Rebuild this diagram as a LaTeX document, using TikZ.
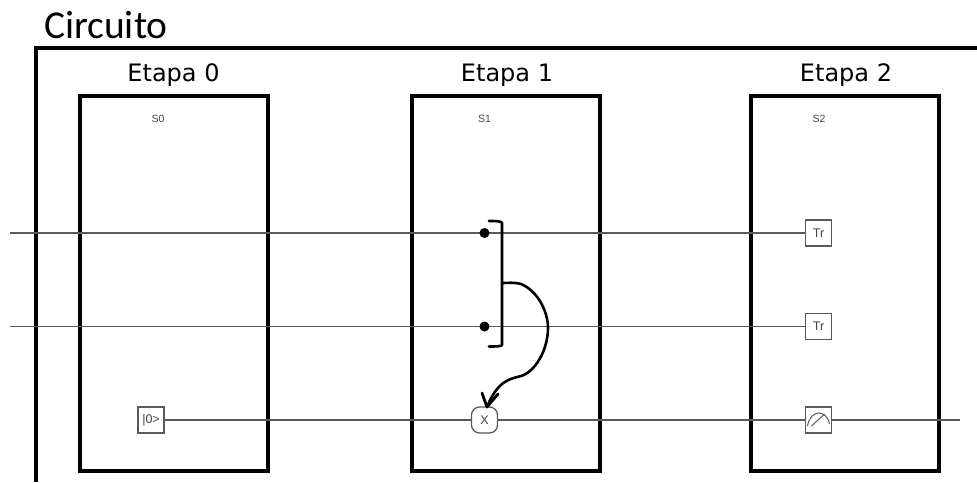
\documentclass[tikz,border=0pt]{standalone}
\usepackage{fontspec}
\setmainfont{Carlito}
\newfontfamily\etapafont{DejaVu Sans}
\newfontfamily\smallfont{Liberation Sans}
\usetikzlibrary{arrows.meta}
\definecolor{wirecol}{HTML}{5A5A5A}
\definecolor{smallcol}{HTML}{444444}
\tikzset{
  x=1pt,y=-1pt,
  frameline/.style={draw=black,line width=4pt,miter limit=10},
  stagebox/.style={draw=black,line width=4pt,minimum width=188pt,minimum height=375pt,inner sep=0pt,outer sep=0pt},
  wire/.style={draw=wirecol,line width=1.4pt},
  gatebox/.style={draw=wirecol,line width=1.3pt,fill=white,minimum width=26pt,minimum height=26pt,inner sep=0pt,font=\smallfont\fontsize{12.5}{12.5}\selectfont,text=smallcol},
  xgate/.style={gatebox,rounded corners=8pt},
  stagelabel/.style={font=\etapafont\fontsize{24}{24}\selectfont,text=black,inner sep=0pt},
  steplabel/.style={font=\smallfont\fontsize{10.5}{11}\selectfont,text=smallcol,inner sep=0pt},
  ctrl/.style={circle,fill=black,minimum size=10pt,inner sep=0pt},
  ink/.style={draw=black,line width=2.6pt,line cap=round,line join=round},
}
\begin{document}
\begin{tikzpicture}
\useasboundingbox (0,0) rectangle (977,482);
\fill[white] (0,0) rectangle (977,482);
% stage boxes
\node[stagebox] (b0) at (174,283.5) {};
\node[stagebox] (b1) at (506,283.5) {};
\node[stagebox] (b2) at (845,283.5) {};
% outer frame
\coordinate (fa) at (36,482);
\coordinate (fb) at (36,48);
\coordinate (fc) at (977,48);
\draw[frameline] (fa) -- (fb) -- (fc);
\node[anchor=base west,inner sep=0pt,font=\fontsize{39.5}{39.5}\selectfont] (title) at (44,38) {Circuito};
\node[stagelabel] (e0) at (173.5,75) {Etapa 0};
\node[stagelabel] (e1) at (507,75) {Etapa 1};
\node[stagelabel] (e2) at (846,75) {Etapa 2};
\node[steplabel] (s0) at (158,119) {S0};
\node[steplabel] (s1) at (484.5,119) {S1};
\node[steplabel] (s2) at (819,119) {S2};
% coordinates and gates
\coordinate (w1) at (10,233);
\coordinate (w2) at (10,326.5);
\coordinate (w3) at (960,420);
\node[gatebox] (tr1) at (818.5,233) {Tr};
\node[gatebox] (tr2) at (818.5,326.5) {Tr};
\node[gatebox] (init) at (151,420) {|0>};
\node[xgate] (xg) at (484.5,420) {X};
\node[gatebox] (meter) at (818.5,420) {};
\draw[wire] (w1) -- (tr1.west);
\draw[wire] (w2) -- (tr2.west);
\draw[wire] (init.east) -- (xg.west);
\draw[wire] (xg.east) -- (meter.west);
\draw[wire] (meter.east) -- (w3);
% meter glyph
\draw[wirecol,line width=1pt] ([shift={(-11,6)}]meter.center) .. controls ([shift={(-8,-11)}]meter.center) and ([shift={(8,-11)}]meter.center) .. ([shift={(11,4)}]meter.center);
\draw[wirecol,line width=1pt] ([shift={(-7,6)}]meter.center) -- ([shift={(6,-6)}]meter.center);
% controls
\node[ctrl] (c1) at (484.5,233) {};
\node[ctrl] (c2) at (484.5,326.5) {};
% bracket
\coordinate (ba) at (489,221);
\coordinate (bb) at (502,223);
\coordinate (bc) at (502,345);
\coordinate (bd) at (489,346.5);
\coordinate (bm) at (503,283);
\draw[ink] (ba) .. controls (495,221) and (502,221) .. (bb) -- (bc) .. controls (502,346.5) and (495,346.5) .. (bd);
% curved arrow
\draw[ink] (bm) .. controls (508,283) and (513,282) .. (521,284)
  .. controls (538,291) and (548,312) .. (548,328)
  .. controls (548,350) and (535,372) .. (521,376)
  .. controls (510,379) and (498,380) .. (487,407);
\coordinate (ah) at (487,407);
\coordinate (al) at (482,393);
\coordinate (ar) at (498,394);
\draw[ink,line width=2.8pt] (al) -- (ah) -- (ar);
\end{tikzpicture}
\end{document}
